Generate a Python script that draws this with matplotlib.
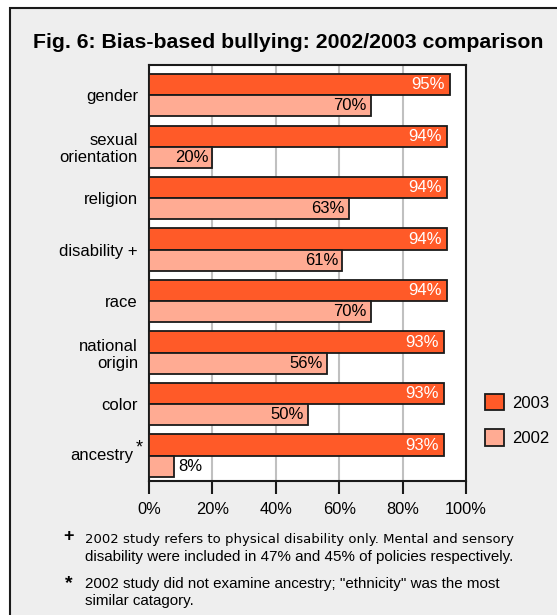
import matplotlib
matplotlib.use('Agg')
import matplotlib.pyplot as plt
from matplotlib.patches import Rectangle
import numpy as np

plt.rcParams['font.family'] = ['Liberation Sans', 'DejaVu Sans']

categories = ['gender', 'sexual\norientation', 'religion', 'disability +',
              'race', 'national\norigin', 'color', 'ancestry']
values_2003 = [95, 94, 94, 94, 94, 93, 93, 93]
values_2002 = [70, 20, 63, 61, 70, 56, 50, 8]
ticks = [0, 20, 40, 60, 80, 100]

color_2003 = '#ff5a28'
color_2002 = '#ffab93'
dark = '#1a1a1a'

W, H = 557, 615
fig = plt.figure(figsize=(W / 100, H / 100), dpi=100)
fig.patch.set_facecolor('white')

# gray panel with dark frame
fig.patches.append(Rectangle((9.5 / W, -0.1), 1.0, 1 - 7.5 / H + 0.1,
                             transform=fig.transFigure, facecolor='#eeeeee',
                             edgecolor=dark, lw=1.5, zorder=-10))

fig.text(288 / W, 1 - 42.5 / H,
         'Fig. 6: Bias-based bullying: 2002/2003 comparison',
         ha='center', va='center', fontsize=15.3, fontweight='bold')

ax = fig.add_axes([149 / W, 1 - 481 / H, 317 / W, 416 / H])
ax.set_facecolor('white')

y = np.arange(len(categories))
h = 0.41
off = h / 2
ax.barh(y - off, values_2003, height=h, color=color_2003,
        edgecolor=dark, lw=1.3, zorder=3, label='2003')
ax.barh(y + off, values_2002, height=h, color=color_2002,
        edgecolor=dark, lw=1.3, zorder=3, label='2002')

for yi, v in zip(y, values_2003):
    ax.text(v - 1.7, yi - off, f'{v}%', ha='right', va='center',
            color='white', fontsize=12, zorder=4)
for yi, v in zip(y, values_2002):
    if v > 15:
        ax.text(v - 1.3, yi + off, f'{v}%', ha='right', va='center',
                color='black', fontsize=12, zorder=4)
    else:
        ax.text(v + 1.3, yi + off, f'{v}%', ha='left', va='center',
                color='black', fontsize=12, zorder=4)

ax.set_xlim(0, 100)
ax.set_ylim(7 + h + 4.3 / 51.4, -h - 9 / 51.4)
ax.set_xticks(ticks)
ax.set_xticklabels([f'{t}%' for t in ticks], fontsize=11.8)
ax.set_yticks(y)
labels = list(categories)
labels[-1] = ''
ax.set_yticklabels(labels, fontsize=12, linespacing=1.15)
ax.tick_params(axis='y', length=0, pad=8)
ax.tick_params(axis='x', length=9, width=1.5, color=dark, pad=6)
ax.xaxis.grid(True, color='#c0c0c0', lw=1.5, zorder=0)
for s in ax.spines.values():
    s.set_color(dark)
    s.set_linewidth(1.5)

# ancestry label with its superscript star
ax.annotate(categories[-1], xy=(0, y[-1]), xycoords=('axes fraction', 'data'),
            xytext=(-16, 0), textcoords='offset pixels',
            ha='right', va='center', fontsize=12)
ax.annotate('*', xy=(0, y[-1]), xycoords=('axes fraction', 'data'),
            xytext=(-10, 8), textcoords='offset pixels',
            ha='center', va='center', fontsize=13)

fig.legend(loc='upper left', bbox_to_anchor=(485 / W, 1 - 394 / H),
           frameon=False, fontsize=12, handlelength=1.14, handleheight=1.12,
           labelspacing=1.12, handletextpad=0.5, borderpad=0,
           borderaxespad=0)

fig.text(68 / W, 1 - 537 / H, '+', fontsize=13, fontweight='bold',
         ha='center', va='center')
fig.text(85 / W, 1 - 540 / H,
         '2002 study refers to physical disability only. Mental and sensory',
         fontsize=9.5, ha='left', va='center', family='DejaVu Sans')
fig.text(85 / W, 1 - 557 / H,
         'disability were included in 47% and 45% of policies respectively.',
         fontsize=10.9, ha='left', va='center')
fig.text(69 / W, 1 - 584 / H, '*', fontsize=14, fontweight='bold',
         ha='center', va='center')
fig.text(85 / W, 1 - 592.5 / H,
         '2002 study did not examine ancestry; "ethnicity" was the most\n'
         'similar catagory.',
         fontsize=10.9, ha='left', va='center', linespacing=1.2)

fig.savefig('out.png', dpi=100)
